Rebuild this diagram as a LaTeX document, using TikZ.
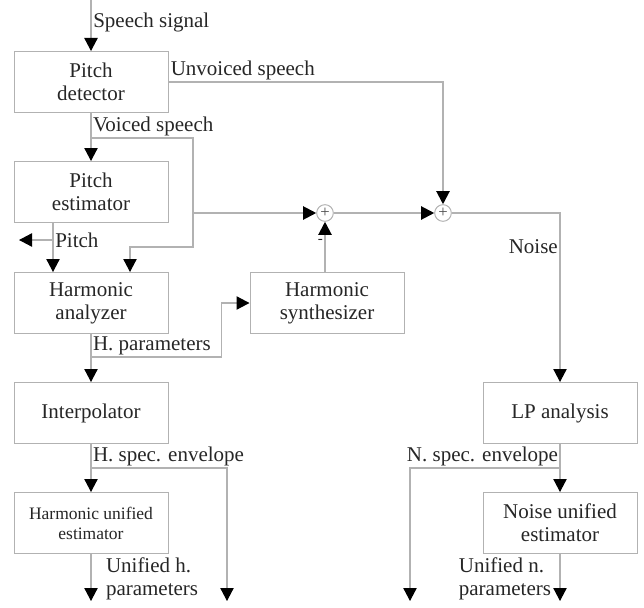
\documentclass[tikz,border=0pt]{standalone}
\usepackage{fontspec}
\setmainfont{Liberation Serif}
\newfontfamily\diagfont{Liberation Serif}
\usetikzlibrary{arrows.meta, positioning, calc}
\tikzset{
  blk/.style   = {rectangle, draw=gray!60, line width=0.6pt, minimum width=92.4pt,
                  minimum height=36.6pt, align=center, text=black!85,
                  font=\diagfont\fontsize{12.6}{13.8}\selectfont, inner sep=2pt},
  sumnode/.style = {circle, draw=gray!60, line width=0.6pt, minimum size=10pt,
                  inner sep=0pt, font=\diagfont\fontsize{10}{10}\selectfont, text=black!70},
  wire/.style  = {draw=gray!60, line width=0.7pt},
  arr/.style   = {wire, -{Triangle[length=7.8pt, width=8pt, black]}},
  lbl/.style   = {font=\diagfont\fontsize{12.6}{13.8}\selectfont, text=black!85,
                  inner sep=1pt, align=left}
}
\begin{document}
\begin{tikzpicture}[x=0.6pt, y=-0.6pt]
  \useasboundingbox (0,0) rectangle (644,608);
  % blocks
  \node[blk] (det) at (91,82)  {Pitch\\detector};
  \node[blk] (est) at (91,192) {Pitch\\estimator};
  \node[blk] (ana) at (91,303) {Harmonic\\analyzer};
  \node[blk] (syn) at (327,303) {Harmonic\\synthesizer};
  \node[blk] (int) at (91,413) {Interpolator};
  \node[blk, font=\diagfont\fontsize{10.5}{12}\selectfont] (hue) at (91,523) {Harmonic unified\\estimator};
  \node[blk] (lpa) at (560,413) {LP analysis};
  \node[blk] (nue) at (560,523) {Noise unified\\estimator};
  \node[sumnode] (s1) at (325,213) {+};
  \node[sumnode] (s2) at (443,213) {+};
  % free ends and branch points
  \coordinate (in)   at (91,0);
  \coordinate (vb)   at (91,138);
  \coordinate (vj)   at (193,213);
  \coordinate (pb)   at (53,240);
  \coordinate (pout) at (19,240);
  \coordinate (hb)   at (91,357);
  \coordinate (ib)   at (91,468);
  \coordinate (lb)   at (560,468);
  \coordinate (hend) at (227,601);
  \coordinate (uhend) at (91,601);
  \coordinate (nend) at (410,601);
  \coordinate (unend) at (560,601);
  % connectors
  \draw[arr] (in) -- node[lbl, right, pos=0.45] {Speech signal} (det);
  \draw[arr] (det.east) node[lbl, above right] {Unvoiced speech} -| (s2);
  \draw[arr] (det) -- (est);
  \node[lbl, above right] at (vb) {Voiced speech};
  \draw[arr] (vb) -| (193,247) -| ($(ana.north)+(39,0)$);
  \draw[arr] (vj) -- (s1);
  \draw[arr] (est.south -| pb) -- (ana.north -| pb);
  \draw[arr] (pb) -- node[lbl, right, pos=0] {Pitch} (pout);
  \draw[arr] (ana) -- (int);
  \node[lbl, above right] at (hb) {H. parameters};
  \draw[arr] (hb) -| ($(syn.west)+(-28,0)$) -- (syn.west);
  \draw[arr] (syn.north -| s1) -- node[lbl, left, pos=0.6, font=\diagfont\fontsize{9}{9}\selectfont] {-} (s1);
  \draw[arr] (s1) -- (s2);
  \draw[arr] (s2) -| node[lbl, left, pos=0.6] {Noise} (lpa);
  \draw[arr] (int) -- (hue);
  \node[lbl, above right] at (ib) {H. spec. envelope};
  \draw[arr] (ib) -| (hend);
  \draw[arr] (hue) -- (uhend);
  \node[lbl, anchor=west] at (104,579) {Unified h.\\parameters};
  \draw[arr] (lpa) -- (nue);
  \node[lbl, above left] at (lb) {N. spec. envelope};
  \draw[arr] (lb) -| (nend);
  \draw[arr] (nue) -- (unend);
  \node[lbl, anchor=east] at (553,579) {Unified n.\\parameters};
\end{tikzpicture}
\end{document}
